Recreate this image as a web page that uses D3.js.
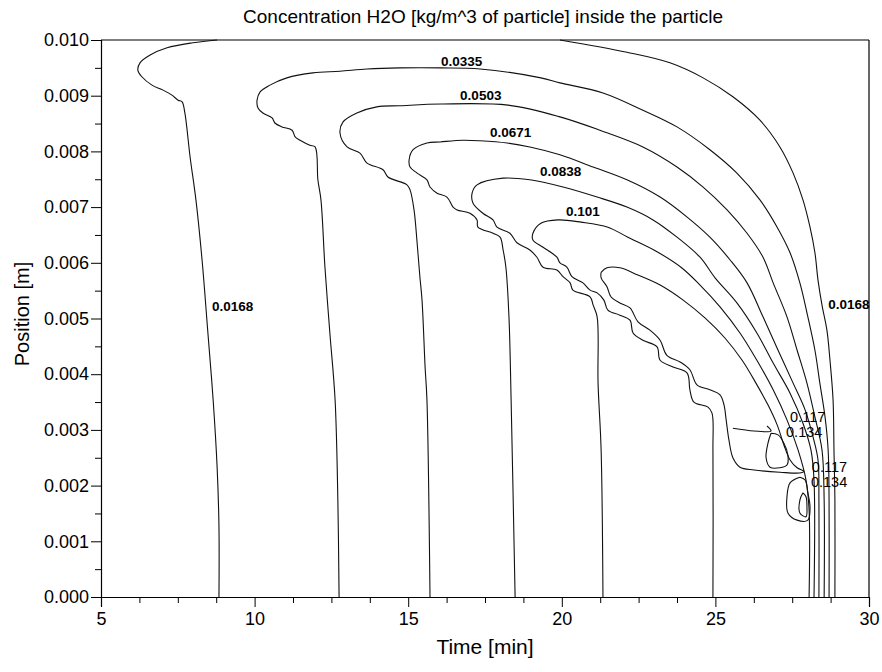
<!DOCTYPE html>
<html>
<head>
<meta charset="utf-8">
<script src="https://cdn.jsdelivr.net/npm/d3@7"></script>
<style>
body { margin: 0; background: #fff; }
text { font-family: Arial, "Liberation Sans", sans-serif; fill: #000; }
</style>
</head>
<body>
<script>
// contour lines, [time (min), position (m)]
const c0168Left = [[8.84,0],[8.84,0.00126],[8.78,0.00233],[8.65,0.00354],[8.48,0.00474],[8.29,0.00605],[8.09,0.00713],[7.90,0.00790],[7.73,0.00869],[7.64,0.00889],[7.51,0.00892],[7.31,0.00901],[7.02,0.00910],[6.66,0.00919],[6.33,0.00934],[6.20,0.00946],[6.27,0.00959],[6.60,0.00973],[7.15,0.00986],[7.99,0.00995],[8.78,0.0100]];
const c0168Right = [[19.94,0.0100],[22.12,0.00978],[23.52,0.00959],[24.60,0.00932],[25.57,0.00898],[26.45,0.00856],[27.10,0.00808],[27.53,0.00761],[27.85,0.00713],[28.08,0.00664],[28.24,0.00618],[28.34,0.00569],[28.47,0.00524],[28.63,0.00479],[28.73,0.00425],[28.83,0.00354],[28.86,0.00264],[28.89,0.00174],[28.89,0]];
const c0335 = [[12.75,0],[12.71,0.00174],[12.62,0.00354],[12.45,0.00474],[12.29,0.00592],[12.16,0.00713],[12.06,0.00749],[11.97,0.00808],[11.80,0.00811],[11.48,0.00820],[11.32,0.00826],[11.22,0.00838],[10.89,0.00844],[10.66,0.00851],[10.57,0.00860],[10.27,0.00869],[10.11,0.00878],[10.08,0.00892],[10.18,0.00907],[10.50,0.00919],[11.05,0.00932],[11.90,0.00941],[12.78,0.00944],[13.66,0.00948],[14.73,0.00950],[16.07,0.00950],[17.34,0.00948],[19.32,0.00932],[19.94,0.00923],[21.34,0.00905],[22.64,0.00874],[23.75,0.00844],[24.82,0.00803],[25.70,0.00761],[26.45,0.00713],[27.01,0.00664],[27.43,0.00618],[27.75,0.00564],[28.01,0.00503],[28.24,0.00443],[28.40,0.00384],[28.57,0.00323],[28.67,0.00264],[28.70,0.00174],[28.70,0]];
const c0503 = [[15.71,0],[15.61,0.00354],[15.55,0.00413],[15.45,0.00533],[15.38,0.00575],[15.29,0.00636],[15.19,0.00695],[15.06,0.00731],[14.96,0.00740],[14.34,0.00754],[14.18,0.00767],[13.66,0.00779],[13.43,0.00797],[13.01,0.00808],[12.78,0.00833],[12.88,0.00853],[13.33,0.00869],[13.98,0.00880],[14.73,0.00882],[16.07,0.00885],[18.25,0.00883],[19.94,0.00862],[21.24,0.00838],[22.64,0.00808],[23.75,0.00772],[24.60,0.00736],[25.38,0.00695],[26.03,0.00653],[26.55,0.00610],[26.88,0.00564],[27.33,0.00503],[27.66,0.00443],[27.98,0.00384],[28.24,0.00323],[28.47,0.00264],[28.54,0.00174],[28.54,0]];
const c0671 = [[18.48,0],[18.35,0.00354],[18.28,0.00503],[18.18,0.00592],[18.09,0.00623],[17.99,0.00646],[17.76,0.00653],[17.27,0.00664],[17.24,0.00677],[17.01,0.00689],[16.59,0.00695],[16.46,0.00700],[16.26,0.00718],[15.94,0.00725],[15.71,0.00736],[15.61,0.00749],[15.29,0.00761],[15.06,0.00772],[15.03,0.00785],[15.16,0.00803],[15.61,0.00815],[16.04,0.00817],[16.78,0.00820],[17.34,0.00819],[18.22,0.00815],[18.96,0.00808],[19.94,0.00794],[21.02,0.00772],[22.12,0.00749],[23.20,0.00718],[24.08,0.00682],[24.82,0.00646],[25.48,0.00605],[26.03,0.00564],[26.55,0.00503],[27.04,0.00443],[27.53,0.00384],[27.92,0.00336],[28.18,0.00287],[28.34,0.00246],[28.37,0.00174],[28.37,0]];
const c0838 = [[21.34,0],[21.28,0.00264],[21.18,0.00384],[21.15,0.00503],[21.02,0.00524],[20.92,0.00539],[20.36,0.00551],[20.27,0.00564],[20.04,0.00575],[19.84,0.00587],[19.39,0.00592],[19.19,0.00610],[18.96,0.00623],[18.54,0.00636],[18.31,0.00653],[17.89,0.00664],[17.76,0.00677],[17.43,0.00689],[17.11,0.00707],[17.08,0.00725],[17.24,0.00740],[18.09,0.00752],[18.96,0.00749],[20.04,0.00736],[21.15,0.00718],[22.12,0.00700],[22.97,0.00677],[23.75,0.00646],[24.50,0.00610],[24.99,0.00573],[25.70,0.00528],[26.35,0.00474],[26.88,0.00420],[27.43,0.00366],[27.85,0.00312],[28.11,0.00264],[28.21,0.00210],[28.21,0]];
const c101 = [[24.92,0],[24.92,0.00264],[24.89,0.00330],[24.76,0.00341],[24.30,0.00350],[24.17,0.00372],[24.08,0.00402],[23.62,0.00413],[23.20,0.00425],[23.10,0.00449],[22.64,0.00461],[22.32,0.00474],[22.22,0.00497],[21.89,0.00506],[21.50,0.00515],[21.37,0.00533],[21.15,0.00546],[20.92,0.00551],[20.69,0.00564],[20.33,0.00575],[20.17,0.00592],[19.94,0.00600],[19.84,0.00610],[19.39,0.00628],[19.06,0.00641],[19.06,0.00653],[19.32,0.00671],[19.88,0.00677],[20.63,0.00673],[21.50,0.00664],[22.15,0.00646],[23.00,0.00623],[23.88,0.00592],[24.50,0.00560],[25.15,0.00521],[25.80,0.00474],[26.35,0.00425],[26.88,0.00372],[27.33,0.00318],[27.69,0.00264],[27.95,0.00210],[28.05,0.00156],[28.05,0]];
const c117 = [[21.28,0.00583],[21.47,0.00591],[21.89,0.00591],[22.48,0.00578],[23.20,0.00560],[23.95,0.00533],[24.66,0.00501],[25.31,0.00465],[25.87,0.00425],[26.32,0.00384],[26.71,0.00345],[27.01,0.00309],[27.23,0.00273],[27.43,0.00246],[27.66,0.00232],[27.88,0.00226],[27.79,0.00223],[27.10,0.00224],[26.26,0.00228],[25.80,0.00233],[25.57,0.00250],[25.44,0.00282],[25.35,0.00318],[25.28,0.00345],[25.15,0.00363],[24.82,0.00372],[24.40,0.00381],[24.17,0.00408],[23.85,0.00422],[23.42,0.00434],[23.20,0.00461],[22.87,0.00479],[22.48,0.00494],[22.22,0.00519],[21.89,0.00528],[21.60,0.00539],[21.47,0.00557],[21.28,0.00573],[21.28,0.00583]];
const c117Low = [[27.75,0.00215],[27.43,0.00205],[27.33,0.00180],[27.36,0.00151],[27.66,0.00138],[28.01,0.00138],[28.08,0.00162],[28.01,0.00187],[27.92,0.00210],[27.75,0.00215]];
const c134Tail = [[25.57,0.00303],[26.26,0.00298],[26.81,0.00298],[26.68,0.00307]];
const c134Loop = [[26.81,0.00294],[26.71,0.00276],[26.65,0.00250],[26.78,0.00233],[27.10,0.00232],[27.33,0.00237],[27.36,0.00255],[27.23,0.00276],[27.04,0.00291],[26.81,0.00294]];
const c134Low = [[27.85,0.00187],[27.75,0.00174],[27.75,0.00151],[27.95,0.00144],[27.98,0.00162],[27.95,0.00180],[27.85,0.00187]];

// contour labels
const arcLabelText = ["0.0168","0.0335","0.0503","0.0671","0.0838","0.101","0.0168"];
const arcLabelTime = [8.61,16.07,16.69,17.66,19.29,20.14,28.67];
const arcLabelPos = [0.00513,0.00953,0.00892,0.00826,0.00756,0.00684,0.00517];
const innerLabelText = ["0.117","0.134","0.117","0.134"];
const innerLabelTime = [27.43,27.30,28.14,28.11];
const innerLabelPos = [0.00314,0.00287,0.00224,0.00197];

// axes
const xTicks = [5,10,15,20,25,30];
const xMinor = [6.25,7.5,8.75,11.25,12.5,13.75,16.25,17.5,18.75,21.25,22.5,23.75,26.25,27.5,28.75];
const yTicks = [0,0.001,0.002,0.003,0.004,0.005,0.006,0.007,0.008,0.009,0.010];
const yMinor = [0.0005,0.0015,0.0025,0.0035,0.0045,0.0055,0.0065,0.0075,0.0085,0.0095];

const allLines = [c0168Left, c0168Right, c0335, c0503, c0671, c0838, c101, c117, c117Low, c134Tail, c134Loop, c134Low];

let w = 882, h = 672;
let plotLeft = 101, plotRight = 869, plotTop = 40, plotBottom = 597;

var svg = d3.select("body").append("svg")
  .attr("width", w)
  .attr("height", h);

var x = d3.scaleLinear().domain([5, 30]).range([plotLeft, plotRight]);
var y = d3.scaleLinear().domain([0, 0.01]).range([plotBottom, plotTop]);

// frame top and right
svg.append("line").attr("x1", plotLeft).attr("x2", plotRight).attr("y1", plotTop).attr("y2", plotTop)
  .attr("stroke", "#000").attr("stroke-width", 1.2);
svg.append("line").attr("x1", plotRight).attr("x2", plotRight).attr("y1", plotTop).attr("y2", plotBottom)
  .attr("stroke", "#000").attr("stroke-width", 1.2);

var lineGen = d3.line()
  .x(function(d) { return x(d[0]); })
  .y(function(d) { return y(d[1]); })
  .curve(d3.curveCatmullRom.alpha(0.5));

svg.append("g").selectAll("path")
  .data(allLines)
  .enter()
  .append("path")
  .attr("d", lineGen)
  .attr("fill", "none")
  .attr("stroke", "#111")
  .attr("stroke-width", 1.1);

// labels on the contours
svg.append("g").selectAll("text")
  .data(arcLabelText)
  .enter()
  .append("text")
  .attr("x", function(d, i) { return x(arcLabelTime[i]); })
  .attr("y", function(d, i) { return y(arcLabelPos[i]); })
  .attr("font-size", 13.5)
  .attr("font-weight", "bold")
  .text(function(d) { return d; });

svg.append("g").selectAll("text")
  .data(innerLabelText)
  .enter()
  .append("text")
  .attr("x", function(d, i) { return x(innerLabelTime[i]); })
  .attr("y", function(d, i) { return y(innerLabelPos[i]); })
  .attr("font-size", 14.5)
  .text(function(d) { return d; });

// axes
svg.append("g")
  .attr("transform", "translate(0," + plotBottom + ")")
  .call(d3.axisBottom(x).tickValues(xTicks).tickSize(10).tickPadding(5).tickFormat(d3.format("d")));
svg.append("g")
  .attr("transform", "translate(0," + plotBottom + ")")
  .call(d3.axisBottom(x).tickValues(xMinor).tickSize(6).tickFormat(""))
  .select(".domain").remove();

svg.append("g")
  .attr("transform", "translate(" + plotLeft + ",0)")
  .call(d3.axisLeft(y).tickValues(yTicks).tickSize(10).tickPadding(2).tickFormat(d3.format(".3f")));
svg.append("g")
  .attr("transform", "translate(" + plotLeft + ",0)")
  .call(d3.axisLeft(y).tickValues(yMinor).tickSize(6).tickFormat(""))
  .select(".domain").remove();

svg.selectAll(".domain").attr("stroke", "#000").attr("stroke-width", 1.2);
svg.selectAll(".tick line").attr("stroke", "#000");
svg.selectAll(".tick text")
  .attr("font-size", 18)
  .attr("font-family", "Arial, 'Liberation Sans', sans-serif")
  .attr("fill", "#000");

// titles
svg.append("text")
  .attr("x", 483)
  .attr("y", 23)
  .attr("text-anchor", "middle")
  .attr("font-size", 19)
  .text("Concentration H2O [kg/m^3 of particle] inside the particle");

svg.append("text")
  .attr("x", 485)
  .attr("y", 654)
  .attr("text-anchor", "middle")
  .attr("font-size", 21)
  .text("Time [min]");

svg.append("text")
  .attr("transform", "translate(29,314) rotate(-90)")
  .attr("text-anchor", "middle")
  .attr("font-size", 20)
  .text("Position [m]");
</script>
</body>
</html>
